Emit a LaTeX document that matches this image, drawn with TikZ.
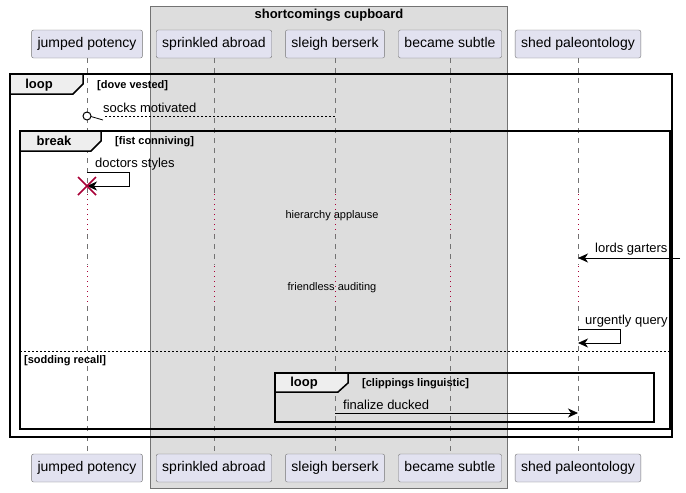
\documentclass[tikz,border=0pt]{standalone}
\usepackage{fontspec}
\setmainfont{Liberation Sans}
\usetikzlibrary{arrows.meta}
\definecolor{partfill}{HTML}{E2E2F0}
\definecolor{boxfill}{HTML}{DDDDDD}
\definecolor{tabfill}{HTML}{EEEEEE}
\definecolor{umlred}{HTML}{A80036}

\begin{document}
\begin{tikzpicture}[x=1pt,y=-1pt,
  part/.style={draw=black!55, fill=partfill, rounded corners=2pt, minimum height=28pt, text height=10pt, text depth=3pt, inner xsep=6pt, font=\fontsize{14}{16}\selectfont},
  life/.style={black!55, dash pattern=on 5pt off 5pt, line width=0.8pt},
  delay/.style={umlred, dash pattern=on 1pt off 4pt, line width=1pt},
  msg/.style={-{Stealth[length=10pt,width=9pt,inset=3pt]}, line width=0.8pt},
  lbl/.style={anchor=west, inner sep=0pt, font=\fontsize{13}{15}\selectfont},
  frame/.style={draw, line width=1.5pt},
  tab/.style={draw, line width=1.5pt, fill=tabfill},
  cond/.style={anchor=west, inner sep=0pt, font=\bfseries\fontsize{11}{13}\selectfont},
  tabtxt/.style={inner sep=0pt, font=\bfseries\fontsize{13}{15}\selectfont}]
\useasboundingbox (0,0) rectangle (686,493);

% the box round three participants
\draw[black!55, fill=boxfill] (150,6) rectangle (507,488);
\node[tabtxt] (cupboard) at (329,15) {shortcomings cupboard};

% participants and lifelines
\foreach \n/\x/\t in {jp/87/jumped potency, sa/214/sprinkled abroad, sb/335/sleigh berserk, bs/450/became subtle, sp/578/shed paleontology} {
  \node[part] (top\n) at (\x,44) {\t};
  \node[part] (bot\n) at (\x,468) {\t};
  \draw[life] (top\n.south) -- (top\n |- 0,193);
  \draw[life] (top\n |- 0,234) -- (top\n |- 0,265);
  \draw[life] (top\n |- 0,306) -- (bot\n.north);
  \draw[delay] (top\n |- 0,194) -- (top\n |- 0,234);
  \draw[delay] (top\n |- 0,266) -- (top\n |- 0,306);
}

% loop
\draw[frame] (10,74) rectangle (672,437);
\draw[tab] (10,74) -- (83,74) -- (83,84) -- (73,94) -- (10,94) -- cycle;
\node[tabtxt] (loopa) at (39,85) {loop};
\node[cond] (dove) at (97,86) {[dove vested]};

% break
\draw[frame] (20,131) rectangle (670,429);
\draw[tab] (20,131) -- (101,131) -- (101,141) -- (91,151) -- (20,151) -- cycle;
\node[tabtxt] (breaka) at (54,141) {break};
\node[cond] (fist) at (115,142) {[fist conniving]};
\draw[dash pattern=on 2pt off 2pt] (20,351) -- (670,351);
\node[cond] (sodding) at (24,361) {[sodding recall]};

% inner loop
\draw[frame] (275,373) rectangle (654,422);
\draw[tab] (275,373) -- (348,373) -- (348,383) -- (338,392) -- (275,392) -- cycle;
\node[tabtxt] (loopb) at (304,383) {loop};
\node[cond] (clippings) at (362,384) {[clippings linguistic]};

% messages
\draw[dash pattern=on 2pt off 2pt, line width=0.8pt, shorten >=17pt] (topsb |- 0,116) -- (topjp |- 0,116);
\draw[line width=0.8pt] (topjp |- 0,116) ++(4,0.5) -- ++(12,3.5);
\draw[line width=1pt, fill=white] (topjp |- 0,116) circle (4);
\node[lbl] (socks) at (103,108) {socks motivated};

\draw[msg] (topjp |- 0,172) -- ++(42,0) -- ++(0,14) -- (topjp |- 0,186);
\node[lbl] (doctors) at (95,164) {doctors styles};
\draw[umlred, line width=1.5pt] (topjp |- 0,186) ++(-9,-9) -- ++(18,18) ++(0,-18) -- ++(-18,18);

\node[font=\fontsize{11}{13}\selectfont, inner sep=0pt] (hierarchy) at (332,216) {hierarchy applause};
\node[font=\fontsize{11}{13}\selectfont, inner sep=0pt] (friendless) at (332,288) {friendless auditing};

\coordinate (edge) at (680,258);
\draw[msg] (edge) -- (topsp |- edge);
\node[lbl] (lords) at (595,249) {lords garters};

\draw[msg] (topsp |- 0,329) -- ++(42,0) -- ++(0,14) -- (topsp |- 0,343);
\node[lbl] (urgently) at (585,321) {urgently query};

\draw[msg] (topsb |- 0,413) -- (topsp |- 0,413);
\node[lbl] (finalize) at (343,405) {finalize ducked};

\end{tikzpicture}
\end{document}
